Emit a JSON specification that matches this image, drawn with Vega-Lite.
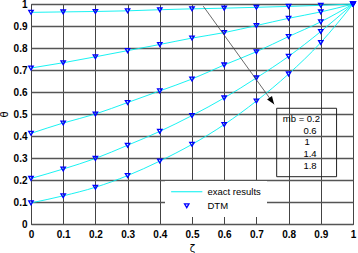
{
  "$schema": "https://vega.github.io/schema/vega-lite/v6.json",
  "width": 322,
  "height": 220,
  "autosize": {"type": "none"},
  "padding": {"left": 31, "top": 4, "right": 5, "bottom": 29},
  "background": "white",
  "config": {
    "view": {"stroke": "#333", "strokeWidth": 1},
    "font": "Liberation Sans",
    "axis": {"labelOverlap": false}
  },
  "datasets": {
    "curves": [
      {"mb": "0.2", "zeta": 0.0, "theta": 0.962}, {"mb": "0.2", "zeta": 0.1, "theta": 0.964}, {"mb": "0.2", "zeta": 0.2, "theta": 0.966}, {"mb": "0.2", "zeta": 0.3, "theta": 0.969}, {"mb": "0.2", "zeta": 0.4, "theta": 0.974}, {"mb": "0.2", "zeta": 0.5, "theta": 0.978}, {"mb": "0.2", "zeta": 0.6, "theta": 0.981}, {"mb": "0.2", "zeta": 0.7, "theta": 0.985}, {"mb": "0.2", "zeta": 0.8, "theta": 0.989}, {"mb": "0.2", "zeta": 0.9, "theta": 0.994}, {"mb": "0.2", "zeta": 1.0, "theta": 1.0},
      {"mb": "0.6", "zeta": 0.0, "theta": 0.709}, {"mb": "0.6", "zeta": 0.1, "theta": 0.733}, {"mb": "0.6", "zeta": 0.2, "theta": 0.76}, {"mb": "0.6", "zeta": 0.3, "theta": 0.788}, {"mb": "0.6", "zeta": 0.4, "theta": 0.816}, {"mb": "0.6", "zeta": 0.5, "theta": 0.845}, {"mb": "0.6", "zeta": 0.6, "theta": 0.87}, {"mb": "0.6", "zeta": 0.7, "theta": 0.902}, {"mb": "0.6", "zeta": 0.8, "theta": 0.935}, {"mb": "0.6", "zeta": 0.9, "theta": 0.964}, {"mb": "0.6", "zeta": 1.0, "theta": 1.0},
      {"mb": "1", "zeta": 0.0, "theta": 0.412}, {"mb": "1", "zeta": 0.1, "theta": 0.459}, {"mb": "1", "zeta": 0.2, "theta": 0.5}, {"mb": "1", "zeta": 0.3, "theta": 0.552}, {"mb": "1", "zeta": 0.4, "theta": 0.605}, {"mb": "1", "zeta": 0.5, "theta": 0.659}, {"mb": "1", "zeta": 0.6, "theta": 0.723}, {"mb": "1", "zeta": 0.7, "theta": 0.783}, {"mb": "1", "zeta": 0.8, "theta": 0.852}, {"mb": "1", "zeta": 0.9, "theta": 0.919}, {"mb": "1", "zeta": 1.0, "theta": 1.0},
      {"mb": "1.4", "zeta": 0.0, "theta": 0.207}, {"mb": "1.4", "zeta": 0.1, "theta": 0.25}, {"mb": "1.4", "zeta": 0.2, "theta": 0.298}, {"mb": "1.4", "zeta": 0.3, "theta": 0.358}, {"mb": "1.4", "zeta": 0.4, "theta": 0.421}, {"mb": "1.4", "zeta": 0.5, "theta": 0.493}, {"mb": "1.4", "zeta": 0.6, "theta": 0.573}, {"mb": "1.4", "zeta": 0.7, "theta": 0.664}, {"mb": "1.4", "zeta": 0.8, "theta": 0.762}, {"mb": "1.4", "zeta": 0.9, "theta": 0.875}, {"mb": "1.4", "zeta": 1.0, "theta": 1.0},
      {"mb": "1.8", "zeta": 0.0, "theta": 0.096}, {"mb": "1.8", "zeta": 0.1, "theta": 0.128}, {"mb": "1.8", "zeta": 0.2, "theta": 0.167}, {"mb": "1.8", "zeta": 0.3, "theta": 0.22}, {"mb": "1.8", "zeta": 0.4, "theta": 0.286}, {"mb": "1.8", "zeta": 0.5, "theta": 0.362}, {"mb": "1.8", "zeta": 0.6, "theta": 0.452}, {"mb": "1.8", "zeta": 0.7, "theta": 0.559}, {"mb": "1.8", "zeta": 0.8, "theta": 0.682}, {"mb": "1.8", "zeta": 0.9, "theta": 0.825}, {"mb": "1.8", "zeta": 1.0, "theta": 1.0}
    ],
    "arrow": [{"zeta": 0.535, "theta": 0.99, "zeta2": 0.755, "theta2": 0.544}],
    "arrowhead": [{"zeta": 0.755, "theta": 0.544}],
    "box": [{"zeta": 0.763, "zeta2": 0.949, "theta": 0.526, "theta2": 0.215}],
    "labels": [
      {"zeta": 0.782, "theta": 0.479, "label": "mb = 0.2"},
      {"zeta": 0.846, "theta": 0.425, "label": "0.6"},
      {"zeta": 0.849, "theta": 0.371, "label": "1"},
      {"zeta": 0.846, "theta": 0.316, "label": "1.4"},
      {"zeta": 0.846, "theta": 0.262, "label": "1.8"}
    ]
  },
  "encoding": {
    "x": {
      "field": "zeta", "type": "quantitative",
      "scale": {"domain": [0, 1], "nice": false},
      "axis": {
        "title": "ζ", "values": [0, 0.1, 0.2, 0.3, 0.4, 0.5, 0.6, 0.7, 0.8, 0.9, 1], "format": "~g",
        "grid": true, "gridColor": "#444", "gridWidth": 1, "gridOpacity": 1,
        "ticks": false, "domain": false, "labelOverlap": false, "labelFlush": false,
        "labelFont": "Liberation Sans", "labelFontSize": 10, "labelFontWeight": "bold", "labelColor": "#000", "labelPadding": 5,
        "titleFont": "DejaVu Sans", "titleFontSize": 10, "titleFontWeight": "normal", "titleColor": "#000", "titlePadding": 4
      }
    },
    "y": {
      "field": "theta", "type": "quantitative",
      "scale": {"domain": [0, 1], "nice": false},
      "axis": {
        "title": "θ", "values": [0, 0.1, 0.2, 0.3, 0.4, 0.5, 0.6, 0.7, 0.8, 0.9, 1], "format": "~g",
        "grid": true, "gridColor": "#555", "gridWidth": 1.4, "gridOpacity": 1,
        "ticks": false, "domain": false, "labelOverlap": false, "labelFlush": false,
        "labelFont": "Liberation Sans", "labelFontSize": 10, "labelFontWeight": "bold", "labelColor": "#000", "labelPadding": 4,
        "titleFont": "DejaVu Sans", "titleFontSize": 10, "titleFontWeight": "normal", "titleColor": "#000", "titlePadding": 4
      }
    }
  },
  "layer": [
    {
      "data": {"name": "curves"},
      "mark": {"type": "line", "strokeWidth": 0.9, "interpolate": "monotone"},
      "encoding": {
        "detail": {"field": "mb"},
        "color": {
          "datum": "exact results",
          "scale": {"domain": ["exact results", "DTM"], "range": ["#00f0f0", "#0000ff"]},
          "legend": {
            "title": null, "orient": "none", "legendX": 134, "legendY": 177,
            "fillColor": "white", "strokeColor": null, "padding": 6,
            "symbolSize": 36, "symbolOffset": 11, "labelOffset": 16, "rowPadding": 3,
            "labelFont": "Liberation Sans", "labelFontSize": 9.5, "labelColor": "#000",
            "labelExpr": "datum.label === 'DTM' ? 'DTM' : datum.label + '    '",
            "encode": {
              "symbols": {
                "update": {
                  "shape": {"signal": "datum.value === 'DTM' ? 'triangle-down' : 'M-5.2,0H5.2'"},
                  "size": {"signal": "datum.value === 'DTM' ? 20 : 36"},
                  "fill": {"value": "transparent"},
                  "stroke": {"signal": "datum.value === 'DTM' ? '#0000ff' : '#00f0f0'"},
                  "strokeWidth": {"signal": "datum.value === 'DTM' ? 1.3 : 1"},
                  "opacity": {"value": 1}
                }
              }
            }
          }
        }
      }
    },
    {
      "data": {"name": "curves"},
      "mark": {"type": "point", "shape": "triangle-down", "filled": false, "size": 20, "strokeWidth": 1.3, "opacity": 1},
      "encoding": {
        "color": {"datum": "DTM"}
      }
    },
    {
      "data": {"name": "arrow"},
      "mark": {"type": "rule", "color": "#444", "strokeWidth": 0.8},
      "encoding": {
        "x2": {"field": "zeta2"},
        "y2": {"field": "theta2"}
      }
    },
    {
      "data": {"name": "arrowhead"},
      "mark": {"type": "point", "shape": "M0,0L-0.75,2L0.75,2Z", "filled": true, "color": "#000", "size": 64, "angle": 145, "opacity": 1},
      "encoding": {}
    },
    {
      "data": {"name": "box"},
      "mark": {"type": "rect", "filled": false, "stroke": "#222", "strokeWidth": 1},
      "encoding": {
        "x2": {"field": "zeta2"},
        "y2": {"field": "theta2"}
      }
    },
    {
      "data": {"name": "labels"},
      "mark": {"type": "text", "align": "left", "baseline": "middle", "font": "Liberation Sans", "fontSize": 9.5, "color": "#000"},
      "encoding": {
        "text": {"field": "label"}
      }
    }
  ]
}
